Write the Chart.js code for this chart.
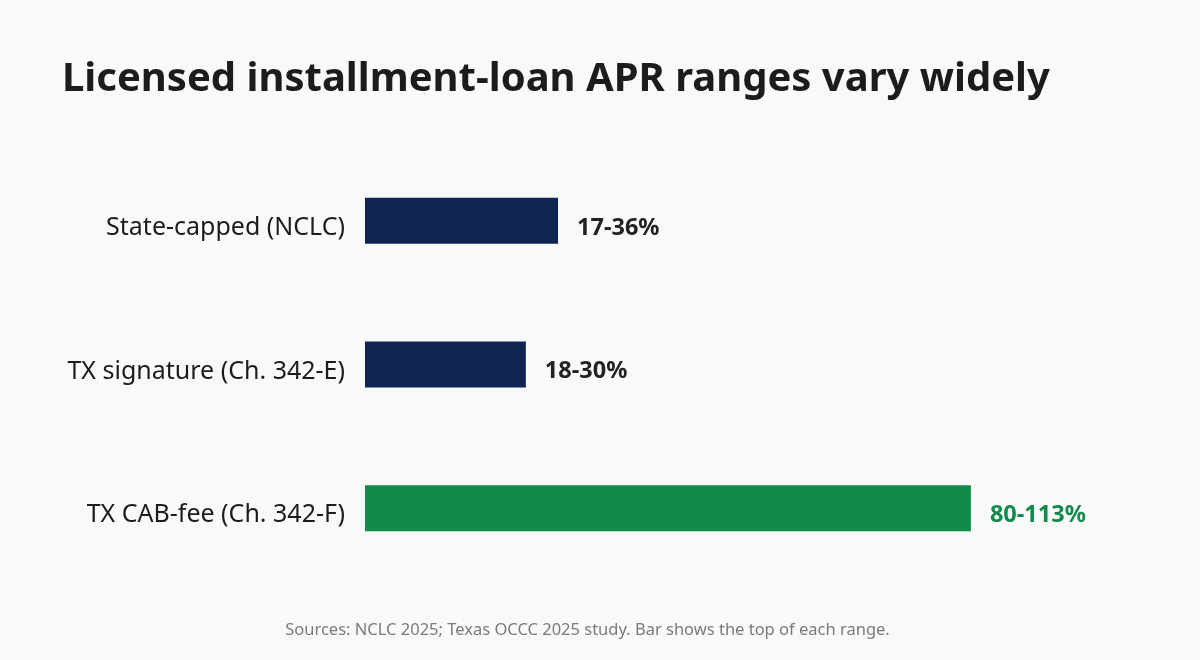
<!DOCTYPE html>
<html>
<head>
<meta charset="utf-8">
<style>
  html, body { margin: 0; padding: 0; background: #f8fafa; }
  #wrap { width: 1200px; height: 660px; }
</style>
<script src="https://cdn.jsdelivr.net/npm/chart.js@4.4.1/dist/chart.umd.min.js"></script>
</head>
<body>
<div id="wrap"><canvas id="myChart"></canvas></div>
<script>
// data
var categories = ['State-capped (NCLC)', 'TX signature (Ch. 342-E)', 'TX CAB-fee (Ch. 342-F)'];
var aprLow = [17, 18, 80];
var aprHigh = [36, 30, 113];
var barColors = ['#0f2452', '#0f2452', '#118a4a'];
var labelColors = ['#222222', '#222222', '#118a4a'];

var FONT = "'Noto Sans', 'Open Sans', sans-serif";

// writes "low-high%" just past the end of each bar
var rangeLabels = {
  id: 'rangeLabels',
  afterDatasetsDraw: function (chart) {
    var ctx = chart.ctx;
    var meta = chart.getDatasetMeta(0);
    ctx.save();
    ctx.font = 'bold 23.5px ' + FONT;
    ctx.textBaseline = 'middle';
    ctx.textAlign = 'left';
    meta.data.forEach(function (bar, i) {
      ctx.fillStyle = labelColors[i];
      ctx.fillText(aprLow[i] + '-' + aprHigh[i] + '%', bar.x + 19, bar.y + 7);
    });
    ctx.restore();
  }
};

var ctx = document.getElementById('myChart').getContext('2d');
var chart = new Chart(ctx, {
  type: 'bar',
  data: {
    labels: categories,
    datasets: [{
      data: aprHigh,
      backgroundColor: barColors,
      borderWidth: 0,
      barPercentage: 0.8,
      categoryPercentage: 0.4
    }]
  },
  options: {
    indexAxis: 'y',
    responsive: true,
    maintainAspectRatio: false,
    animation: false,
    layout: { padding: { left: 62, right: 87, top: 0, bottom: 0 } },
    scales: {
      x: { display: false, min: 0, max: 139.5 },
      y: {
        grid: { display: false, drawTicks: false },
        border: { display: false },
        ticks: { color: '#1c1c1c', padding: 20, labelOffset: 7, font: { family: FONT, size: 25 } },
        afterFit: function (scale) { scale.width = 303; }
      }
    },
    plugins: {
      legend: { display: false },
      tooltip: { enabled: false },
      title: {
        display: true,
        text: 'Licensed installment-loan APR ranges vary widely',
        align: 'start',
        color: '#1c1c1c',
        font: { family: FONT, size: 40, weight: 'bold' },
        padding: { top: 56, bottom: 45 }
      },
      subtitle: {
        display: true,
        position: 'bottom',
        text: 'Sources: NCLC 2025; Texas OCCC 2025 study. Bar shows the top of each range.',
        color: '#7a7a7a',
        font: { family: FONT, size: 16.5 },
        padding: { top: 40, bottom: 20 }
      }
    }
  },
  plugins: [rangeLabels]
});
</script>
</body>
</html>
